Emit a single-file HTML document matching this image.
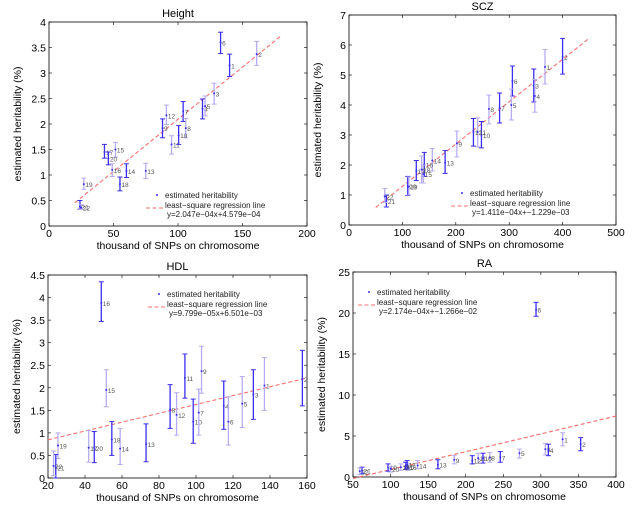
<!DOCTYPE html>
<html><head><meta charset="utf-8"><style>
body{margin:0;background:#fff;}
svg text{font-family:"Liberation Sans",sans-serif;}
</style></head><body>
<svg id="fig" width="640" height="514" xmlns="http://www.w3.org/2000/svg"></svg>
<script>
// Height
const hLabels=[6,2,1,3,4,5,7,12,9,8,10,11,17,15,20,16,14,13,18,19,21,22];
const hX=[133,161,140,128,119,121,104,91,88,106,100.5,95,43,51.5,46,49,60,75,55,27,24,25];
const hY=[3.6,3.37,3.15,2.6,2.3,2.35,2.25,2.17,1.92,1.92,1.78,1.6,1.45,1.5,1.32,1.1,1.08,1.08,0.82,0.82,0.38,0.36];
const hLo=[3.38,3.15,2.93,2.39,2.1,2.16,2.05,1.99,1.73,1.73,1.6,1.41,1.33,1.35,1.2,0.97,0.95,0.93,0.69,0.72,0.33,0.33];
const hHi=[3.8,3.62,3.37,2.8,2.49,2.55,2.44,2.37,2.1,2.11,1.97,1.77,1.6,1.64,1.45,1.22,1.22,1.23,0.96,0.94,0.5,0.42];
// SCZ
const sLabels=[2,1,3,4,6,5,7,8,10,11,12,9,13,14,16,15,17,18,20,19,21,22];
const sX=[400,367,346,348,306,304,282,262,248,241,233,202,180,156,141,139,126,136,110,112,70,67];
const sY=[5.6,5.27,4.65,4.3,4.8,4.0,3.9,3.87,3.0,3.1,3.1,2.72,2.08,2.15,2.02,1.7,1.8,1.85,1.3,1.28,0.8,0.95];
const sLo=[5.03,4.7,4.1,3.76,4.3,3.5,3.4,3.37,2.57,2.6,2.63,2.27,1.72,1.8,1.62,1.4,1.48,1.4,0.98,1.0,0.6,0.75];
const sHi=[6.22,5.85,5.2,4.85,5.3,4.53,4.4,4.33,3.45,3.57,3.55,3.13,2.48,2.55,2.42,2.0,2.15,2.3,1.62,1.6,1.0,1.22];
// HDL
const dLabels=[16,15,11,9,2,1,3,5,4,6,8,12,10,7,13,14,18,17,20,19,21,22];
const dX=[48.8,51.5,94,103,157.5,137,131,125,115,117.5,86,89.5,98.5,101.5,73,59,54.5,42,45,25.4,24.2,23];
const dY=[3.88,1.95,2.22,2.37,2.2,2.05,1.85,1.65,1.6,1.25,1.52,1.4,1.25,1.45,0.75,0.65,0.85,0.67,0.67,0.72,0.23,0.27];
const dLo=[3.47,1.58,1.77,1.88,1.6,1.5,1.3,1.12,1.08,0.73,1.1,0.95,0.77,0.95,0.36,0.3,0.5,0.35,0.34,0.43,0.0,0.05];
const dHi=[4.35,2.4,2.75,2.92,2.83,2.67,2.4,2.25,2.15,1.8,2.07,1.89,1.75,1.97,1.2,1.1,1.25,1.05,1.03,1.0,0.52,0.6];
// RA
const rLabels=[6,1,2,3,4,5,7,8,10,11,12,9,13,14,15,16,17,18,19,20,21,22];
const rX=[293.6,329,353,306,310,271.5,246,232,223,216.6,208.7,184.7,163,136,120,123,122,113.6,96.7,100,62,59];
const rY=[20.4,4.6,4.0,3.4,3.3,2.9,2.4,2.4,2.3,2.3,2.0,2.1,1.5,1.4,1.3,1.2,1.5,1.2,1.2,1.0,0.8,0.7];
const rLo=[19.6,3.8,3.2,2.7,2.6,2.3,1.8,1.8,1.7,1.7,1.6,1.6,1.0,1.0,0.9,0.8,1.0,0.8,0.7,0.6,0.4,0.3];
const rHi=[21.3,5.4,4.8,4.1,4.0,3.4,3.1,3.0,2.9,2.9,2.6,2.6,2.1,2.0,1.8,1.6,2.0,1.6,1.6,1.3,1.2,1.1];

const NS='http://www.w3.org/2000/svg';
const svg=document.getElementById('fig');
function mk(tag,attrs,parent,text){const e=document.createElementNS(NS,tag);for(const k in attrs)e.setAttribute(k,attrs[k]);if(text!==undefined)e.textContent=text;(parent||svg).appendChild(e);return e;}

function panel(o){
  const g=mk('g',{});
  
  
  const sx=v=>o.l+(v-o.x0)/(o.x1-o.x0)*(o.r-o.l);
  const sy=v=>o.b-(v-o.y0)/(o.y1-o.y0)*(o.b-o.t);
  const t=mk('text',{x:(o.l+o.r)/2,y:o.t-5,'text-anchor':'middle','font-size':11},g,o.title);
  
  
  const box=mk('rect',{x:o.l,y:o.t,width:o.r-o.l,height:o.b-o.t,fill:'none',stroke:'#000','stroke-width':0.8},g);
  
  
  o.xt.forEach(v=>{const x=sx(v);
    mk('line',{x1:x,x2:x,y1:o.b,y2:o.b-3,stroke:'#000','stroke-width':0.6},g);
    mk('line',{x1:x,x2:x,y1:o.t,y2:o.t+3,stroke:'#000','stroke-width':0.6},g);
    const tl=mk('text',{x:x,y:o.b+11,'text-anchor':'middle','font-size':10.5},g,String(v));
    
    
  });
  o.yt.forEach(v=>{const y=sy(v);
    mk('line',{x1:o.l,x2:o.l+3,y1:y,y2:y,stroke:'#000','stroke-width':0.6},g);
    mk('line',{x1:o.r,x2:o.r-3,y1:y,y2:y,stroke:'#000','stroke-width':0.6},g);
    const tl=mk('text',{x:o.l-3,y:y+4,'text-anchor':'end','font-size':10.5},g,String(v));
    
    
  });
  const xl=mk('text',{x:(o.l+o.r)/2,y:o.b+23,'text-anchor':'middle','font-size':10.5},g,'thousand of SNPs on chromosome');
  
  
  const yx=o.l-28,yy=(o.t+o.b)/2;
  const yl=mk('text',{x:yx,y:yy,'text-anchor':'middle','font-size':10.5,transform:`rotate(-90 ${yx} ${yy})`},g,'estimated heritability (%)');
  
  
  // regression line
  const rl=mk('line',{x1:sx(o.lx0),y1:sy(o.slope*o.lx0+o.icpt),x2:sx(o.lx1),y2:sy(o.slope*o.lx1+o.icpt),stroke:'#f87070','stroke-width':1.1,'stroke-dasharray':'4,2.5'},g);
  
  
  // points
  o.X.forEach((xv,i)=>{
    const c=i%2===0?'#3a2ef0':'#b5acf2';
    const pg=mk('g',{},g);
    
    
    const x=sx(xv),y1=sy(o.Lo[i]),y2=sy(o.Hi[i]),y=sy(o.Y[i]);
    mk('line',{x1:x,x2:x,y1:y1,y2:y2,stroke:c,'stroke-width':1.3},pg);
    mk('line',{x1:x-2.5,x2:x+2.5,y1:y1,y2:y1,stroke:c,'stroke-width':1},pg);
    mk('line',{x1:x-2.5,x2:x+2.5,y1:y2,y2:y2,stroke:c,'stroke-width':1},pg);
    mk('circle',{cx:x,cy:y,r:1,fill:'#3a2ef0'},pg);
    mk('text',{x:x+1.5,y:y+3,'font-size':6.5,fill:'#555'},pg,String(o.L[i]));
  });
  // legend
  const lg=mk('g',{},g);
  
  
  const [lx,ly]=o.leg;
  mk('circle',{cx:lx+5,cy:ly,r:1,fill:'#3a2ef0'},lg);
  mk('text',{x:lx+13,y:ly+3,'font-size':8,fill:'#222'},lg,'estimated heritability');
  mk('line',{x1:lx-6,x2:lx+11,y1:ly+13,y2:ly+13,stroke:'#f87070','stroke-width':1.1,'stroke-dasharray':'4,2.5'},lg);
  mk('text',{x:lx+13,y:ly+13,'font-size':8,fill:'#222'},lg,'least\u2212square regression line');
  mk('text',{x:lx+15,y:ly+22,'font-size':8,fill:'#222'},lg,o.eq);
}

panel({name:'height',title:'Height',l:49,r:307,t:22,b:226,x0:0,x1:200,y0:0,y1:4,xt:[0,50,100,150,200],yt:[0,0.5,1,1.5,2,2.5,3,3.5,4],
  X:hX,Y:hY,Lo:hLo,Hi:hHi,L:hLabels,slope:0.02047,icpt:0.04579,lx0:20,lx1:180,leg:[152,195],eq:'y=2.047e\u221204x+4.579e\u221204'});
panel({name:'scz',title:'SCZ',l:349,r:616,t:15,b:225,x0:0,x1:500,y0:0,y1:7,xt:[0,100,200,300,400,500],yt:[0,1,2,3,4,5,6,7],
  X:sX,Y:sY,Lo:sLo,Hi:sHi,L:sLabels,slope:0.01411,icpt:-0.1229,lx0:50,lx1:450,leg:[457,193],eq:'y=1.411e\u221204x+\u22121.229e\u221203'});
panel({name:'hdl',title:'HDL',l:48,r:307,t:275,b:478,x0:20,x1:160,y0:0,y1:4.5,xt:[20,40,60,80,100,120,140,160],yt:[0,0.5,1,1.5,2,2.5,3,3.5,4,4.5],
  X:dX,Y:dY,Lo:dLo,Hi:dHi,L:dLabels,slope:0.009799,icpt:0.6501,lx0:20,lx1:160,leg:[154,294],eq:'y=9.799e\u221205x+6.501e\u221203'});
panel({name:'ra',title:'RA',l:353,r:616,t:272,b:477,x0:50,x1:400,y0:0,y1:25,xt:[50,100,150,200,250,300,350,400],yt:[0,5,10,15,20,25],
  X:rX,Y:rY,Lo:rLo,Hi:rHi,L:rLabels,slope:0.02174,icpt:-1.266,lx0:50,lx1:400,leg:[364,292],eq:'y=2.174e\u221204x+\u22121.266e\u221202'});
</script>
</body></html>
